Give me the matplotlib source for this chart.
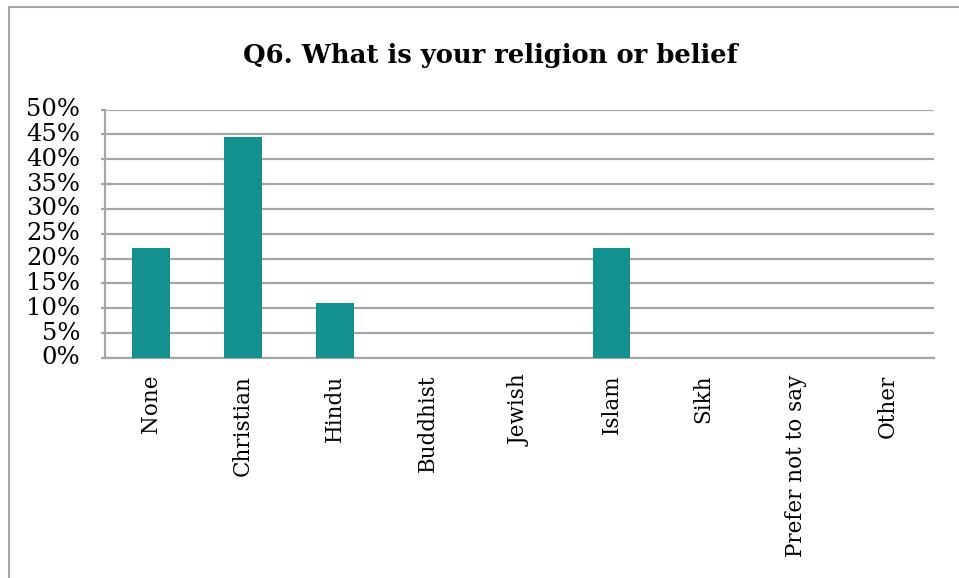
import matplotlib.pyplot as plt
from matplotlib.patches import Rectangle
from matplotlib.ticker import PercentFormatter, MultipleLocator

# Survey answers for Q6
categories = ['None', 'Christian', 'Hindu', 'Buddhist', 'Jewish', 'Islam', 'Sikh',
              'Prefer not to say', 'Other']
shares = [2/9, 4/9, 1/9, 0, 0, 2/9, 0, 0, 0]

teal = '#139191'
grid_grey = '#a6a6a6'

plt.rcParams['font.family'] = ['DejaVu Serif']

fig = plt.figure(figsize=(9.59, 5.78), dpi=100)

# outer chart frame (only top and left edges fall inside the image)
fig.patches.append(Rectangle((9 / 959, -0.1), 1.2, 1 - 7 / 578 + 0.1,
                             transform=fig.transFigure, fill=False,
                             edgecolor=grid_grey, linewidth=1.5))

ax = fig.add_axes([105 / 959, 1 - 358 / 578, (934 - 105) / 959, (358 - 109.5) / 578])
x = range(len(categories))
ax.bar(x, shares, width=0.41, color=teal, zorder=3)

ax.set_xlim(-0.5, len(categories) - 0.5)
ax.set_ylim(0, 0.5)
ax.yaxis.set_major_locator(MultipleLocator(0.05))
ax.yaxis.set_major_formatter(PercentFormatter(1.0, decimals=0))
ax.grid(axis='y', color=grid_grey, linewidth=1.6, zorder=0)

ax.set_xticks(list(x))
ax.set_xticklabels(categories, rotation=90, fontsize=15.5)
ax.tick_params(axis='x', length=0, pad=12)
ax.tick_params(axis='y', labelsize=17.5, length=3, color=grid_grey, width=1.6, pad=15)
for lbl in ax.get_yticklabels():
    lbl.set_verticalalignment('center')

for side in ['top', 'right']:
    ax.spines[side].set_visible(False)
for side in ['left', 'bottom']:
    ax.spines[side].set_color(grid_grey)
    ax.spines[side].set_linewidth(1.6)

fig.text(490 / 959, 1 - 55 / 578, 'Q6. What is your religion or belief',
         ha='center', va='center', fontsize=18.6, fontweight='bold')

fig.savefig('out.png', dpi=100)
